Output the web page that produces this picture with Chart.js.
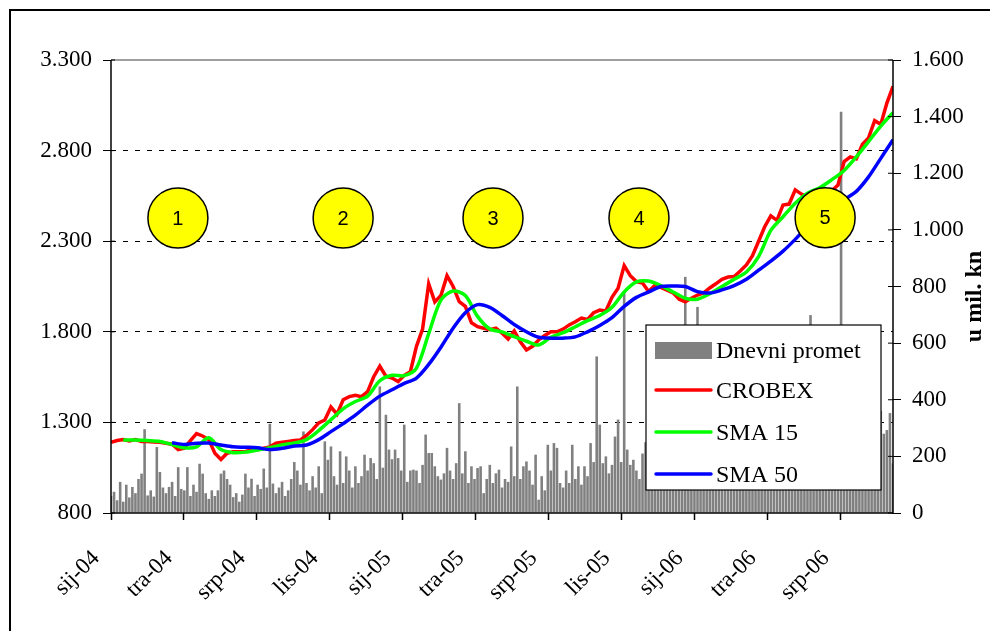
<!DOCTYPE html>
<html>
<head>
<meta charset="utf-8">
<script src="https://cdn.jsdelivr.net/npm/chart.js@4.4.1/dist/chart.umd.min.js"></script>
<style>
  html, body { margin: 0; padding: 0; background: #fff; }
  #wrap { position: relative; width: 990px; height: 631px; overflow: hidden; }
  #frame { position: absolute; left: 9px; top: 9px; width: 1000px; height: 700px;
           border-left: 2px solid #000; border-top: 2px solid #000; pointer-events: none; }
</style>
</head>
<body>
<div id="wrap">
  <canvas id="chart" width="990" height="631"></canvas>
  <div id="frame"></div>
</div>
<script>
// x axis runs in months from sij-04 (0) to mid rujan-06
const MONTHS = 32.14;
const xLabels = ['sij-04', 'tra-04', 'srp-04', 'lis-04', 'sij-05', 'tra-05',
                 'srp-05', 'lis-05', 'sij-06', 'tra-06', 'srp-06'];

// CROBEX, roughly weekly
const crobex = [
  1190, 1200, 1205, 1198, 1205, 1195, 1195, 1192, 1190, 1185,
  1180, 1150, 1158, 1200, 1238, 1225, 1205, 1130, 1095, 1130,
  1138, 1138, 1140, 1148, 1150, 1158, 1165, 1185, 1190, 1195,
  1200, 1203, 1228, 1260, 1297, 1313, 1385, 1345, 1425, 1442,
  1450, 1442, 1470, 1552, 1610, 1555, 1545, 1525, 1560, 1580,
  1720, 1815, 2065, 1965, 2000, 2110, 2050, 1966, 1940, 1850,
  1828, 1820, 1812, 1820, 1793, 1760, 1805, 1745, 1700, 1720,
  1755, 1780, 1800, 1800, 1815, 1838, 1855, 1876, 1868, 1905,
  1920, 1915, 1990, 2040, 2165, 2110, 2077, 2069, 2022, 2055,
  2045, 2030, 2015, 1980, 1966, 1985, 2003, 2015, 2042, 2065,
  2090, 2102, 2105, 2135, 2169, 2220, 2300, 2380, 2440, 2415,
  2500, 2505, 2583, 2560, 2545, 2550, 2560, 2570, 2580, 2610,
  2740, 2765, 2755, 2835, 2870, 2965, 2945, 3062, 3155
];

// moving averages, every half month
const sma15 = [
  null, 1203, 1203, 1200, 1195, 1178, 1160, 1165, 1215, 1150,
  1133, 1136, 1148, 1160, 1176, 1186, 1205, 1255, 1315, 1375,
  1415, 1445, 1530, 1560, 1558, 1600, 1790, 1975, 2025, 2000,
  1885, 1815, 1800, 1773, 1748, 1727, 1770, 1795, 1828, 1862,
  1890, 1935, 2020, 2075, 2080, 2055, 2020, 1985, 1980, 2010,
  2050, 2090, 2130, 2215, 2360, 2435, 2510, 2565, 2595, 2640,
  2690, 2765, 2850, 2935, 3010
];
const sma50 = [
  null, null, null, null, null, 1188, 1178, 1185, 1186, 1175,
  1165, 1163, 1160, 1150, 1157, 1170, 1175, 1205, 1249, 1293,
  1340, 1395, 1445, 1480, 1515, 1545, 1620, 1715, 1820, 1905,
  1950, 1935, 1890, 1840, 1800, 1770, 1765, 1765, 1772, 1800,
  1835, 1878, 1940, 1990, 2020, 2050, 2053, 2050, 2022, 2014,
  2031, 2055, 2090, 2140, 2190, 2245, 2310, 2380, 2430, 2480,
  2530, 2575, 2655, 2757, 2860
];

// daily turnover (u mil. kn), sampled about every third trading day
const promet = [
  60, 75, 45, 110, 40, 100, 55, 92, 70, 120,
  139, 296, 62, 80, 58, 233, 145, 90, 70, 92,
  110, 60, 162, 85, 80, 162, 60, 100, 75, 174,
  139, 70, 50, 80, 60, 80, 139, 150, 120, 100,
  56, 70, 40, 65, 139, 90, 121, 60, 100, 85,
  157, 90, 315, 104, 70, 90, 110, 60, 80, 120,
  180, 150, 100, 288, 106, 80, 130, 90, 165, 70,
  253, 188, 235, 130, 100, 218, 106, 200, 150, 90,
  165, 106, 130, 206, 150, 194, 176, 120, 447, 160,
  347, 224, 190, 224, 194, 150, 312, 110, 150, 153,
  150, 106, 170, 277, 212, 212, 165, 130, 118, 140,
  230, 150, 120, 176, 388, 140, 218, 106, 165, 120,
  159, 165, 70, 120, 170, 106, 140, 153, 90, 120,
  110, 235, 130, 447, 120, 165, 182, 150, 100, 206,
  47, 130, 80, 241, 150, 247, 230, 106, 90, 150,
  106, 241, 120, 165, 100, 165, 130, 247, 180, 553,
  312, 176, 200, 140, 170, 270, 330, 180, 777, 224,
  170, 188, 150, 120, 210, 250, 180, 230, 300, 260,
  220, 280, 190, 260, 300, 240, 210, 270, 834, 250,
  200, 280, 728, 240, 190, 260, 220, 300, 180, 240,
  260, 210, 290, 230, 180, 250, 320, 200, 270, 230,
  190, 280, 240, 310, 220, 260, 300, 210, 330, 250,
  280, 230, 350, 260, 300, 240, 370, 280, 310, 699,
  260, 330, 290, 380, 250, 340, 300, 400, 360, 1417,
  310, 420, 350, 300, 380, 330, 450, 360, 400, 340,
  380, 420, 360, 280, 293, 353, 176
];

// numbered phase markers (month, index level)
const phaseLabels = ['1', '2', '3', '4', '5'];
const phaseMonth = [2.75, 9.54, 15.70, 21.70, 29.35];
const phaseLevel = [2428, 2428, 2428, 2428, 2430];

const legendLabels = ['Dnevni promet', 'CROBEX', 'SMA 15', 'SMA 50'];

const SERIF = '"Liberation Serif", "Times New Roman", serif';

function spread(values) {
    var step = MONTHS / (values.length - 1);
    return values.map(function(v, i) { return {x: i * step, y: v}; });
}

function thousands(v) {
    return String(v).replace(/\B(?=(\d{3})+(?!\d))/g, '.');
}

const overlay = {
    id: 'overlay',
    afterDatasetsDraw(chart) {
        const ctx = chart.ctx;
        const a = chart.chartArea;
        const line = function(x1, y1, x2, y2) {
            ctx.beginPath(); ctx.moveTo(x1, y1); ctx.lineTo(x2, y2); ctx.stroke();
        };
        ctx.save();

        // plot frame
        ctx.lineWidth = 1.5;
        ctx.strokeStyle = '#808080';
        line(a.left, a.top, a.right, a.top);
        ctx.strokeStyle = '#000';
        line(a.left, a.top, a.left, a.bottom + 0.75);
        line(a.left, a.bottom, a.right, a.bottom);
        line(a.right, a.top, a.right, a.bottom + 0.75);
        // inner half of the crossing tick marks
        ctx.lineWidth = 1;
        chart.scales.y.ticks.forEach(function(t) {
            const py = chart.scales.y.getPixelForValue(t.value);
            line(a.left, py, a.left + 4, py);
        });
        chart.scales.y1.ticks.forEach(function(t) {
            const py = chart.scales.y1.getPixelForValue(t.value);
            line(a.right - 5, py, a.right, py);
        });

        // numbers in the yellow circles
        ctx.fillStyle = '#000';
        ctx.font = '20px "Liberation Sans", Arial, sans-serif';
        ctx.textAlign = 'center';
        ctx.textBaseline = 'middle';
        chart.getDatasetMeta(0).data.forEach(function(p, i) {
            ctx.fillText(phaseLabels[i], p.x, p.y + 1);
        });

        // legend box
        const bx = a.right - 247, by = a.top + 265, bw = 235, bh = 165;
        ctx.fillStyle = '#fff';
        ctx.fillRect(bx, by, bw, bh);
        ctx.lineWidth = 1.2;
        ctx.strokeStyle = '#000';
        ctx.strokeRect(bx, by, bw, bh);
        const rows = [25, 65, 107, 149];
        const colors = [null, '#ff0000', '#00ff00', '#0000ff'];
        ctx.font = '24px ' + SERIF;
        ctx.textAlign = 'left';
        ctx.textBaseline = 'alphabetic';
        rows.forEach(function(r, i) {
            const cy = by + r;
            if (i === 0) {
                ctx.fillStyle = '#808080';
                ctx.fillRect(bx + 9, cy - 8, 57, 17);
            } else {
                ctx.strokeStyle = colors[i];
                ctx.lineWidth = 3.5;
                ctx.lineCap = 'round';
                line(bx + 10, cy, bx + 65, cy);
            }
            ctx.fillStyle = '#000';
            ctx.fillText(legendLabels[i], bx + 70, cy + 8);
        });

        // right axis title, reads bottom to top
        ctx.translate(a.right + 82, (a.top + a.bottom) / 2 + 10);
        ctx.rotate(-Math.PI / 2);
        ctx.font = 'bold 24px ' + SERIF;
        ctx.textAlign = 'center';
        ctx.textBaseline = 'middle';
        ctx.fillText('u mil. kn', 0, 0);
        ctx.restore();
    }
};

const tickFont = {family: SERIF, size: 23};

new Chart(document.getElementById('chart'), {
    type: 'line',
    data: {
        datasets: [{
            type: 'scatter',
            label: 'faze',
            data: phaseMonth.map(function(m, i) { return {x: m, y: phaseLevel[i]}; }),
            yAxisID: 'y',
            order: 0,
            pointRadius: 30,
            pointHoverRadius: 30,
            pointBackgroundColor: '#ffff00',
            pointBorderColor: '#000',
            pointBorderWidth: 1.5,
            showLine: false
        }, {
            label: legendLabels[3],
            data: spread(sma50),
            yAxisID: 'y',
            order: 1,
            borderColor: '#0000ff',
            borderWidth: 3.5,
            pointRadius: 0,
            tension: 0.3,
            fill: false
        }, {
            label: legendLabels[2],
            data: spread(sma15),
            yAxisID: 'y',
            order: 2,
            borderColor: '#00ff00',
            borderWidth: 3.5,
            pointRadius: 0,
            tension: 0.3,
            fill: false
        }, {
            label: legendLabels[1],
            data: spread(crobex),
            yAxisID: 'y',
            order: 3,
            borderColor: '#ff0000',
            borderWidth: 3.5,
            pointRadius: 0,
            tension: 0,
            fill: false
        }, {
            type: 'bar',
            label: legendLabels[0],
            data: spread(promet),
            yAxisID: 'y1',
            order: 4,
            backgroundColor: '#808080',
            barPercentage: 1,
            categoryPercentage: 0.85
        }]
    },
    options: {
        responsive: false,
        animation: false,
        events: [],
        layout: {padding: {top: 60, left: 0, right: 0, bottom: 0}},
        plugins: {legend: {display: false}, tooltip: {enabled: false}},
        scales: {
            x: {
                type: 'linear',
                min: 0,
                max: MONTHS,
                offset: false,
                grid: {drawOnChartArea: false, tickLength: 7, tickColor: '#000', tickWidth: 1.5, offset: false},
                border: {display: false},
                ticks: {
                    stepSize: 3,
                    autoSkip: false,
                    includeBounds: false,
                    maxRotation: 45,
                    minRotation: 45,
                    padding: 25,
                    labelOffset: -15,
                    color: '#000',
                    font: tickFont,
                    callback: function(v) { return xLabels[Math.round(v / 3)]; }
                },
                afterFit: function(s) { s.height = 118; }
            },
            y: {
                position: 'left',
                min: 800,
                max: 3300,
                grid: {
                    color: function(c) {
                        return (c.tick && (c.tick.value === 800 || c.tick.value === 3300)) ? 'rgba(0,0,0,0)' : '#000';
                    },
                    lineWidth: 1,
                    tickLength: 8,
                    tickColor: '#000'
                },
                border: {display: false, dash: [5, 7]},
                ticks: {stepSize: 500, padding: 11, color: '#000', font: tickFont, callback: thousands},
                afterFit: function(s) { s.width = 111; }
            },
            y1: {
                position: 'right',
                min: 0,
                max: 1600,
                grid: {drawOnChartArea: false, tickLength: 8, tickColor: '#000'},
                border: {display: false},
                ticks: {stepSize: 200, padding: 11, color: '#000', font: tickFont, callback: thousands},
                afterFit: function(s) { s.width = 97; }
            }
        }
    },
    plugins: [overlay]
});
</script>
</body>
</html>
